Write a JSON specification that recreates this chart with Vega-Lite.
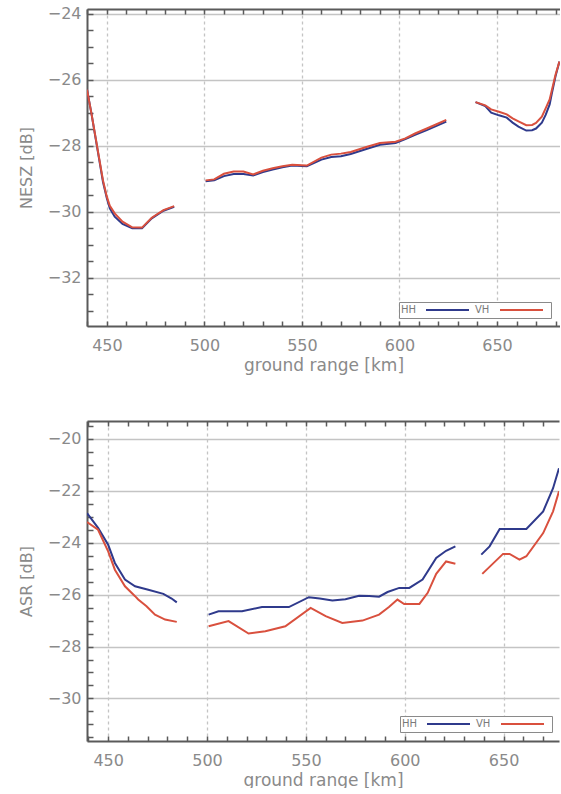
{
  "$schema": "https://vega.github.io/schema/vega-lite/v6.json",
  "padding": {"left": 18, "top": 5, "right": 0, "bottom": 0},
  "spacing": 44,
  "config": {
    "font": "DejaVu Sans",
    "view": {"stroke": null},
    "axis": {
      "labelColor": "#8a8a8a", "titleColor": "#8a8a8a",
      "labelFontSize": 16, "titleFontSize": 16, "titleFontWeight": "normal",
      "domainColor": "#5a5a5a", "domainWidth": 2,
      "tickColor": "#5a5a5a", "tickWidth": 1.5,
      "gridColor": "#c4c4c4", "gridWidth": 1.3,
      "labelOverlap": false, "labelFlush": false
    },
    "legend": {
      "labelColor": "#7a7a7a", "labelFontSize": 10, "labelOffset": 5,
      "symbolType": "stroke", "symbolSize": 1849, "symbolStrokeWidth": 2,
      "strokeColor": "#8a8a8a", "fillColor": "white", "padding": 2,
      "columnPadding": 9, "clipHeight": 12,
      "titleOrient": "left", "titleFontSize": 10, "titleFontWeight": "normal",
      "titleColor": "#7a7a7a", "titlePadding": 8, "titleBaseline": "middle"
    }
  },
  "resolve": {"scale": {"color": "independent"}, "legend": {"color": "independent"}},
  "datasets": {
    "nesz": [
      {"km": 439.8, "db": -26.3, "pol": "HH", "seg": "HH1"},
      {"km": 442, "db": -27.0, "pol": "HH", "seg": "HH1"},
      {"km": 444, "db": -27.7, "pol": "HH", "seg": "HH1"},
      {"km": 446, "db": -28.4, "pol": "HH", "seg": "HH1"},
      {"km": 448, "db": -29.1, "pol": "HH", "seg": "HH1"},
      {"km": 450, "db": -29.6, "pol": "HH", "seg": "HH1"},
      {"km": 451.5, "db": -29.9, "pol": "HH", "seg": "HH1"},
      {"km": 454, "db": -30.15, "pol": "HH", "seg": "HH1"},
      {"km": 458, "db": -30.37, "pol": "HH", "seg": "HH1"},
      {"km": 463, "db": -30.5, "pol": "HH", "seg": "HH1"},
      {"km": 468, "db": -30.5, "pol": "HH", "seg": "HH1"},
      {"km": 473, "db": -30.2, "pol": "HH", "seg": "HH1"},
      {"km": 479, "db": -29.97, "pol": "HH", "seg": "HH1"},
      {"km": 484.5, "db": -29.85, "pol": "HH", "seg": "HH1"},
      {"km": 500.6, "db": -29.08, "pol": "HH", "seg": "HH2"},
      {"km": 505, "db": -29.05, "pol": "HH", "seg": "HH2"},
      {"km": 510, "db": -28.92, "pol": "HH", "seg": "HH2"},
      {"km": 515, "db": -28.86, "pol": "HH", "seg": "HH2"},
      {"km": 520, "db": -28.86, "pol": "HH", "seg": "HH2"},
      {"km": 525, "db": -28.9, "pol": "HH", "seg": "HH2"},
      {"km": 530, "db": -28.8, "pol": "HH", "seg": "HH2"},
      {"km": 535, "db": -28.72, "pol": "HH", "seg": "HH2"},
      {"km": 540, "db": -28.65, "pol": "HH", "seg": "HH2"},
      {"km": 545, "db": -28.6, "pol": "HH", "seg": "HH2"},
      {"km": 552.5, "db": -28.62, "pol": "HH", "seg": "HH2"},
      {"km": 560, "db": -28.42, "pol": "HH", "seg": "HH2"},
      {"km": 565, "db": -28.34, "pol": "HH", "seg": "HH2"},
      {"km": 570, "db": -28.32, "pol": "HH", "seg": "HH2"},
      {"km": 575, "db": -28.25, "pol": "HH", "seg": "HH2"},
      {"km": 583, "db": -28.1, "pol": "HH", "seg": "HH2"},
      {"km": 590, "db": -27.97, "pol": "HH", "seg": "HH2"},
      {"km": 598, "db": -27.92, "pol": "HH", "seg": "HH2"},
      {"km": 603, "db": -27.8, "pol": "HH", "seg": "HH2"},
      {"km": 608, "db": -27.67, "pol": "HH", "seg": "HH2"},
      {"km": 614, "db": -27.53, "pol": "HH", "seg": "HH2"},
      {"km": 619, "db": -27.4, "pol": "HH", "seg": "HH2"},
      {"km": 624, "db": -27.27, "pol": "HH", "seg": "HH2"},
      {"km": 639, "db": -26.68, "pol": "HH", "seg": "HH3"},
      {"km": 644, "db": -26.8, "pol": "HH", "seg": "HH3"},
      {"km": 647, "db": -27.0, "pol": "HH", "seg": "HH3"},
      {"km": 651, "db": -27.08, "pol": "HH", "seg": "HH3"},
      {"km": 655, "db": -27.15, "pol": "HH", "seg": "HH3"},
      {"km": 658, "db": -27.3, "pol": "HH", "seg": "HH3"},
      {"km": 661, "db": -27.42, "pol": "HH", "seg": "HH3"},
      {"km": 665, "db": -27.54, "pol": "HH", "seg": "HH3"},
      {"km": 668, "db": -27.53, "pol": "HH", "seg": "HH3"},
      {"km": 670, "db": -27.48, "pol": "HH", "seg": "HH3"},
      {"km": 673, "db": -27.3, "pol": "HH", "seg": "HH3"},
      {"km": 675, "db": -27.06, "pol": "HH", "seg": "HH3"},
      {"km": 677, "db": -26.75, "pol": "HH", "seg": "HH3"},
      {"km": 678, "db": -26.45, "pol": "HH", "seg": "HH3"},
      {"km": 680, "db": -25.9, "pol": "HH", "seg": "HH3"},
      {"km": 682, "db": -25.45, "pol": "HH", "seg": "HH3"},
      {"km": 439.8, "db": -26.3, "pol": "VH", "seg": "VH1"},
      {"km": 442, "db": -27.0, "pol": "VH", "seg": "VH1"},
      {"km": 444, "db": -27.68, "pol": "VH", "seg": "VH1"},
      {"km": 446, "db": -28.37, "pol": "VH", "seg": "VH1"},
      {"km": 448, "db": -29.05, "pol": "VH", "seg": "VH1"},
      {"km": 450, "db": -29.55, "pol": "VH", "seg": "VH1"},
      {"km": 451.5, "db": -29.82, "pol": "VH", "seg": "VH1"},
      {"km": 454, "db": -30.05, "pol": "VH", "seg": "VH1"},
      {"km": 458, "db": -30.3, "pol": "VH", "seg": "VH1"},
      {"km": 463, "db": -30.47, "pol": "VH", "seg": "VH1"},
      {"km": 468, "db": -30.48, "pol": "VH", "seg": "VH1"},
      {"km": 473, "db": -30.18, "pol": "VH", "seg": "VH1"},
      {"km": 479, "db": -29.95, "pol": "VH", "seg": "VH1"},
      {"km": 484.5, "db": -29.83, "pol": "VH", "seg": "VH1"},
      {"km": 500.6, "db": -29.05, "pol": "VH", "seg": "VH2"},
      {"km": 505, "db": -29.02, "pol": "VH", "seg": "VH2"},
      {"km": 510, "db": -28.85, "pol": "VH", "seg": "VH2"},
      {"km": 515, "db": -28.78, "pol": "VH", "seg": "VH2"},
      {"km": 520, "db": -28.78, "pol": "VH", "seg": "VH2"},
      {"km": 525, "db": -28.87, "pol": "VH", "seg": "VH2"},
      {"km": 530, "db": -28.76, "pol": "VH", "seg": "VH2"},
      {"km": 535, "db": -28.68, "pol": "VH", "seg": "VH2"},
      {"km": 540, "db": -28.62, "pol": "VH", "seg": "VH2"},
      {"km": 545, "db": -28.58, "pol": "VH", "seg": "VH2"},
      {"km": 552.5, "db": -28.6, "pol": "VH", "seg": "VH2"},
      {"km": 560, "db": -28.36, "pol": "VH", "seg": "VH2"},
      {"km": 565, "db": -28.27, "pol": "VH", "seg": "VH2"},
      {"km": 570, "db": -28.24, "pol": "VH", "seg": "VH2"},
      {"km": 575, "db": -28.19, "pol": "VH", "seg": "VH2"},
      {"km": 583, "db": -28.04, "pol": "VH", "seg": "VH2"},
      {"km": 590, "db": -27.92, "pol": "VH", "seg": "VH2"},
      {"km": 598, "db": -27.88, "pol": "VH", "seg": "VH2"},
      {"km": 603, "db": -27.78, "pol": "VH", "seg": "VH2"},
      {"km": 608, "db": -27.63, "pol": "VH", "seg": "VH2"},
      {"km": 614, "db": -27.48, "pol": "VH", "seg": "VH2"},
      {"km": 619, "db": -27.35, "pol": "VH", "seg": "VH2"},
      {"km": 624, "db": -27.22, "pol": "VH", "seg": "VH2"},
      {"km": 639, "db": -26.68, "pol": "VH", "seg": "VH3"},
      {"km": 644, "db": -26.78, "pol": "VH", "seg": "VH3"},
      {"km": 647, "db": -26.9, "pol": "VH", "seg": "VH3"},
      {"km": 651, "db": -26.97, "pol": "VH", "seg": "VH3"},
      {"km": 655, "db": -27.05, "pol": "VH", "seg": "VH3"},
      {"km": 658, "db": -27.17, "pol": "VH", "seg": "VH3"},
      {"km": 661, "db": -27.26, "pol": "VH", "seg": "VH3"},
      {"km": 665, "db": -27.38, "pol": "VH", "seg": "VH3"},
      {"km": 668, "db": -27.37, "pol": "VH", "seg": "VH3"},
      {"km": 670, "db": -27.31, "pol": "VH", "seg": "VH3"},
      {"km": 673, "db": -27.12, "pol": "VH", "seg": "VH3"},
      {"km": 675, "db": -26.86, "pol": "VH", "seg": "VH3"},
      {"km": 677, "db": -26.6, "pol": "VH", "seg": "VH3"},
      {"km": 678, "db": -26.35, "pol": "VH", "seg": "VH3"},
      {"km": 680, "db": -25.85, "pol": "VH", "seg": "VH3"},
      {"km": 682, "db": -25.45, "pol": "VH", "seg": "VH3"}
    ],
    "asr": [
      {"km": 439.3, "db": -22.86, "pol": "HH", "seg": "HH1"},
      {"km": 444.9, "db": -23.43, "pol": "HH", "seg": "HH1"},
      {"km": 450, "db": -24.08, "pol": "HH", "seg": "HH1"},
      {"km": 453.4, "db": -24.78, "pol": "HH", "seg": "HH1"},
      {"km": 458.5, "db": -25.42, "pol": "HH", "seg": "HH1"},
      {"km": 463.6, "db": -25.68, "pol": "HH", "seg": "HH1"},
      {"km": 470.3, "db": -25.81, "pol": "HH", "seg": "HH1"},
      {"km": 477.9, "db": -25.97, "pol": "HH", "seg": "HH1"},
      {"km": 482.1, "db": -26.15, "pol": "HH", "seg": "HH1"},
      {"km": 484.7, "db": -26.3, "pol": "HH", "seg": "HH1"},
      {"km": 500.8, "db": -26.77, "pol": "HH", "seg": "HH2"},
      {"km": 505.8, "db": -26.64, "pol": "HH", "seg": "HH2"},
      {"km": 517.7, "db": -26.64, "pol": "HH", "seg": "HH2"},
      {"km": 527.8, "db": -26.48, "pol": "HH", "seg": "HH2"},
      {"km": 541.4, "db": -26.48, "pol": "HH", "seg": "HH2"},
      {"km": 551.5, "db": -26.1, "pol": "HH", "seg": "HH2"},
      {"km": 557, "db": -26.15, "pol": "HH", "seg": "HH2"},
      {"km": 563.4, "db": -26.23, "pol": "HH", "seg": "HH2"},
      {"km": 570, "db": -26.18, "pol": "HH", "seg": "HH2"},
      {"km": 576.9, "db": -26.04, "pol": "HH", "seg": "HH2"},
      {"km": 582, "db": -26.05, "pol": "HH", "seg": "HH2"},
      {"km": 587, "db": -26.08, "pol": "HH", "seg": "HH2"},
      {"km": 591.3, "db": -25.9, "pol": "HH", "seg": "HH2"},
      {"km": 597.2, "db": -25.74, "pol": "HH", "seg": "HH2"},
      {"km": 602.3, "db": -25.74, "pol": "HH", "seg": "HH2"},
      {"km": 609, "db": -25.42, "pol": "HH", "seg": "HH2"},
      {"km": 615.9, "db": -24.59, "pol": "HH", "seg": "HH2"},
      {"km": 620.9, "db": -24.31, "pol": "HH", "seg": "HH2"},
      {"km": 625.6, "db": -24.14, "pol": "HH", "seg": "HH2"},
      {"km": 638.7, "db": -24.46, "pol": "HH", "seg": "HH3"},
      {"km": 642.9, "db": -24.14, "pol": "HH", "seg": "HH3"},
      {"km": 648, "db": -23.47, "pol": "HH", "seg": "HH3"},
      {"km": 661.5, "db": -23.47, "pol": "HH", "seg": "HH3"},
      {"km": 670, "db": -22.79, "pol": "HH", "seg": "HH3"},
      {"km": 675, "db": -21.9, "pol": "HH", "seg": "HH3"},
      {"km": 678, "db": -21.13, "pol": "HH", "seg": "HH3"},
      {"km": 439.3, "db": -23.2, "pol": "VH", "seg": "VH1"},
      {"km": 444.9, "db": -23.5, "pol": "VH", "seg": "VH1"},
      {"km": 450, "db": -24.33, "pol": "VH", "seg": "VH1"},
      {"km": 453.4, "db": -25.04, "pol": "VH", "seg": "VH1"},
      {"km": 458.5, "db": -25.68, "pol": "VH", "seg": "VH1"},
      {"km": 463.6, "db": -26.06, "pol": "VH", "seg": "VH1"},
      {"km": 465.2, "db": -26.19, "pol": "VH", "seg": "VH1"},
      {"km": 469.4, "db": -26.45, "pol": "VH", "seg": "VH1"},
      {"km": 473.7, "db": -26.77, "pol": "VH", "seg": "VH1"},
      {"km": 478.8, "db": -26.96, "pol": "VH", "seg": "VH1"},
      {"km": 484.7, "db": -27.05, "pol": "VH", "seg": "VH1"},
      {"km": 500.8, "db": -27.22, "pol": "VH", "seg": "VH2"},
      {"km": 510.9, "db": -27.02, "pol": "VH", "seg": "VH2"},
      {"km": 521, "db": -27.5, "pol": "VH", "seg": "VH2"},
      {"km": 529.5, "db": -27.41, "pol": "VH", "seg": "VH2"},
      {"km": 539.6, "db": -27.22, "pol": "VH", "seg": "VH2"},
      {"km": 552.4, "db": -26.51, "pol": "VH", "seg": "VH2"},
      {"km": 560, "db": -26.83, "pol": "VH", "seg": "VH2"},
      {"km": 568.4, "db": -27.09, "pol": "VH", "seg": "VH2"},
      {"km": 578.6, "db": -27.0, "pol": "VH", "seg": "VH2"},
      {"km": 587, "db": -26.77, "pol": "VH", "seg": "VH2"},
      {"km": 592, "db": -26.48, "pol": "VH", "seg": "VH2"},
      {"km": 596.3, "db": -26.19, "pol": "VH", "seg": "VH2"},
      {"km": 599.7, "db": -26.36, "pol": "VH", "seg": "VH2"},
      {"km": 607.4, "db": -26.36, "pol": "VH", "seg": "VH2"},
      {"km": 611.6, "db": -25.93, "pol": "VH", "seg": "VH2"},
      {"km": 615.9, "db": -25.2, "pol": "VH", "seg": "VH2"},
      {"km": 620.9, "db": -24.72, "pol": "VH", "seg": "VH2"},
      {"km": 625.6, "db": -24.81, "pol": "VH", "seg": "VH2"},
      {"km": 639.2, "db": -25.2, "pol": "VH", "seg": "VH3"},
      {"km": 649.7, "db": -24.43, "pol": "VH", "seg": "VH3"},
      {"km": 653, "db": -24.43, "pol": "VH", "seg": "VH3"},
      {"km": 658, "db": -24.65, "pol": "VH", "seg": "VH3"},
      {"km": 661.5, "db": -24.52, "pol": "VH", "seg": "VH3"},
      {"km": 670, "db": -23.63, "pol": "VH", "seg": "VH3"},
      {"km": 675, "db": -22.79, "pol": "VH", "seg": "VH3"},
      {"km": 678, "db": -22.02, "pol": "VH", "seg": "VH3"}
    ]
  },
  "vconcat": [
    {
      "width": 473, "height": 317,
      "data": {"name": "nesz"},
      "layer": [
        {
          "mark": {"type": "line", "strokeWidth": 2, "clip": true},
          "encoding": {
            "x": {"field": "km", "type": "quantitative",
              "scale": {"domain": [439.8, 682.3], "nice": false, "zero": false},
              "axis": {"title": "ground range [km]", "titleFontSize": 17, "titlePadding": 4,
                "values": [440,450,460,470,480,490,500,510,520,530,540,550,560,570,580,590,600,610,620,630,640,650,660,670,680],
                "labelExpr": "datum.value % 50 === 0 ? datum.label : ''",
                "tickSize": -5, "labelPadding": 16, "gridDash": [3, 3],
                "gridOpacity": {"condition": {"test": "datum.value % 50 === 0", "value": 1}, "value": 0}}},
            "y": {"field": "db", "type": "quantitative",
              "scale": {"domain": [-33.46, -23.86], "nice": false, "zero": false},
              "axis": {"title": "NESZ [dB]", "titlePadding": 13,
                "values": [-33.5,-33,-32.5,-32,-31.5,-31,-30.5,-30,-29.5,-29,-28.5,-28,-27.5,-27,-26.5,-26,-25.5,-25,-24.5,-24],
                "labelExpr": "datum.value % 2 === 0 ? format(datum.value, 'd') : ''",
                "tickSize": -6, "labelPadding": 12,
                "gridOpacity": {"condition": {"test": "datum.value % 2 === 0", "value": 1}, "value": 0}}},
            "color": {"field": "pol", "type": "nominal",
              "scale": {"domain": ["HH", "VH"], "range": ["#2f3a8c", "#d9503e"]},
              "legend": {"title": "HH", "orient": "none", "legendX": 312, "legendY": 293, "direction": "horizontal",
                "labelExpr": "datum.label === 'HH' ? 'VH' : ''"}},
            "detail": {"field": "seg"}
          }
        },
        {
          "mark": {"type": "line", "strokeOpacity": 0},
          "encoding": {
            "x": {"field": "km", "type": "quantitative",
              "scale": {"domain": [439.8, 682.3], "nice": false, "zero": false},
              "axis": {"orient": "top", "title": null, "labels": false, "grid": false, "tickSize": -5,
                "values": [440,450,460,470,480,490,500,510,520,530,540,550,560,570,580,590,600,610,620,630,640,650,660,670,680]}},
            "y": {"field": "db", "type": "quantitative", "axis": null},
            "detail": {"field": "seg"}
          }
        }
      ],
      "resolve": {"axis": {"x": "independent", "y": "independent"}}
    },
    {
      "width": 472, "height": 320,
      "data": {"name": "asr"},
      "layer": [
        {
          "mark": {"type": "line", "strokeWidth": 2, "clip": true},
          "encoding": {
            "x": {"field": "km", "type": "quantitative",
              "scale": {"domain": [439.3, 678], "nice": false, "zero": false},
              "axis": {"title": "ground range [km]", "titleFontSize": 17, "titlePadding": 4,
                "values": [440,450,460,470,480,490,500,510,520,530,540,550,560,570,580,590,600,610,620,630,640,650,660,670],
                "labelExpr": "datum.value % 50 === 0 ? datum.label : ''",
                "tickSize": -5, "labelPadding": 16, "gridDash": [3, 3],
                "gridOpacity": {"condition": {"test": "datum.value % 50 === 0", "value": 1}, "value": 0}}},
            "y": {"field": "db", "type": "quantitative",
              "scale": {"domain": [-31.64, -19.31], "nice": false, "zero": false},
              "axis": {"title": "ASR [dB]", "titlePadding": 13,
                "values": [-31.5,-31,-30.5,-30,-29.5,-29,-28.5,-28,-27.5,-27,-26.5,-26,-25.5,-25,-24.5,-24,-23.5,-23,-22.5,-22,-21.5,-21,-20.5,-20,-19.5],
                "labelExpr": "datum.value % 2 === 0 ? format(datum.value, 'd') : ''",
                "tickSize": -6, "labelPadding": 12,
                "gridOpacity": {"condition": {"test": "datum.value % 2 === 0", "value": 1}, "value": 0}}},
            "color": {"field": "pol", "type": "nominal",
              "scale": {"domain": ["HH", "VH"], "range": ["#2f3a8c", "#d9503e"]},
              "legend": {"title": "HH", "orient": "none", "legendX": 313, "legendY": 295, "direction": "horizontal",
                "labelExpr": "datum.label === 'HH' ? 'VH' : ''"}},
            "detail": {"field": "seg"}
          }
        },
        {
          "mark": {"type": "line", "strokeOpacity": 0},
          "encoding": {
            "x": {"field": "km", "type": "quantitative",
              "scale": {"domain": [439.3, 678], "nice": false, "zero": false},
              "axis": {"orient": "top", "title": null, "labels": false, "grid": false, "tickSize": -5,
                "values": [440,450,460,470,480,490,500,510,520,530,540,550,560,570,580,590,600,610,620,630,640,650,660,670]}},
            "y": {"field": "db", "type": "quantitative", "axis": null},
            "detail": {"field": "seg"}
          }
        }
      ],
      "resolve": {"axis": {"x": "independent", "y": "independent"}}
    }
  ]
}
